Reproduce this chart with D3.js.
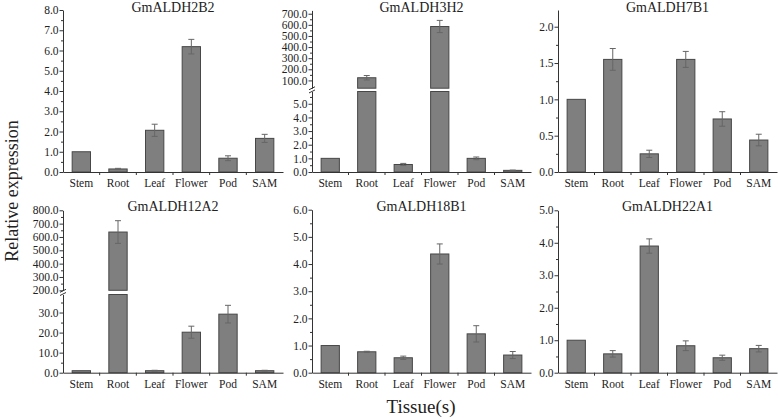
<!DOCTYPE html>
<html>
<head>
<meta charset="UTF-8">
<title>ALDH relative expression</title>
<script src="https://d3js.org/d3.v7.min.js"></script>
<style>
  body { margin: 0; background: #fff; }
  svg { display: block; }
  svg text { font-family: "Liberation Serif", Tinos, "Times New Roman", Times, "Nimbus Roman", "DejaVu Serif", serif !important; }
</style>
</head>
<body>
<script>
  const tissues = ["Stem", "Root", "Leaf", "Flower", "Pod", "SAM"];

  const mean2B2 = [1.0, 0.15, 2.06, 6.19, 0.68, 1.66];
  const err2B2  = [0, 0.03, 0.3, 0.36, 0.12, 0.2];
  const mean3H2 = [1.0, 124, 0.55, 585, 1.0, 0.12];
  const err3H2  = [0, 20, 0.08, 55, 0.1, 0.02];
  const mean7B1 = [1.0, 1.55, 0.25, 1.55, 0.73, 0.44];
  const err7B1  = [0, 0.15, 0.05, 0.11, 0.1, 0.08];
  const mean12A2 = [1.0, 637, 1.0, 20.2, 29.2, 1.0];
  const err12A2  = [0, 85, 0.2, 3.0, 4.4, 0.2];
  const mean18B1 = [1.0, 0.77, 0.55, 4.37, 1.43, 0.65];
  const err18B1  = [0, 0.02, 0.06, 0.37, 0.3, 0.13];
  const mean22A1 = [1.0, 0.58, 3.9, 0.83, 0.46, 0.74];
  const err22A1  = [0, 0.1, 0.22, 0.15, 0.08, 0.1];

  const ticks2B2 = [0, 1, 2, 3, 4, 5, 6, 7, 8];
  const ticks3H2low = [0, 1, 2, 3, 4, 5];
  const ticks3H2high = [100, 200, 300, 400, 500, 600, 700];
  const ticks7B1 = [0, 0.5, 1.0, 1.5, 2.0];
  const ticks12A2low = [0, 10, 20, 30];
  const ticks12A2high = [200, 300, 400, 500, 600, 700, 800];
  const ticks18B1 = [0, 1, 2, 3, 4, 5, 6];
  const ticks22A1 = [0, 1, 2, 3, 4, 5];

  const width = 778, height = 419;
  const top0 = 172, top1 = 372.7;

  const panels = [
    { gene: "GmALDH2B2", mean: mean2B2, err: err2B2, xr: [63, 283], base: top0, titleY: 12,
      segs: [{ domain: [0, 8], range: [top0, 10], ticks: ticks2B2 }] },
    { gene: "GmALDH3H2", mean: mean3H2, err: err3H2, xr: [312, 531], base: top0, titleY: 12,
      segs: [{ domain: [0, 5.9], range: [top0, 91.5], ticks: ticks3H2low },
             { domain: [30, 730], range: [88.2, 10.4], ticks: ticks3H2high }] },
    { gene: "GmALDH7B1", mean: mean7B1, err: err7B1, xr: [558, 777], base: top0, titleY: 12,
      segs: [{ domain: [0, 2.23], range: [top0, 10], ticks: ticks7B1 }] },
    { gene: "GmALDH12A2", mean: mean12A2, err: err12A2, xr: [63, 283], base: top1, titleY: 211,
      segs: [{ domain: [0, 39], range: [top1, 294.5], ticks: ticks12A2low },
             { domain: [200, 800], range: [290.3, 210.3], ticks: ticks12A2high }] },
    { gene: "GmALDH18B1", mean: mean18B1, err: err18B1, xr: [312, 531], base: top1, titleY: 211,
      segs: [{ domain: [0, 6], range: [top1, 209.7], ticks: ticks18B1 }] },
    { gene: "GmALDH22A1", mean: mean22A1, err: err22A1, xr: [558, 777], base: top1, titleY: 211,
      segs: [{ domain: [0, 5], range: [top1, 210.3], ticks: ticks22A1 }] }
  ];

  const axisColor = "#333";
  const barFill = "#7f7f7f";
  const barStroke = "#474747";
  const errColor = "#666";

  const svg = d3.select("body").append("svg")
    .attr("width", width)
    .attr("height", height);

  panels.forEach(p => {
    const g = svg.append("g");
    const x = d3.scaleBand().domain(tissues).range(p.xr).paddingInner(0.5).paddingOuter(0.25);
    p.segs.forEach(s => { s.y = d3.scaleLinear().domain(s.domain).range(s.range); });

    // bars, split over axis segments
    p.mean.forEach((v, i) => {
      p.segs.forEach(s => {
        if (v <= s.domain[0]) return;
        const top = Math.min(v, s.domain[1]);
        g.append("rect")
          .attr("x", x(tissues[i]))
          .attr("width", x.bandwidth())
          .attr("y", s.y(top))
          .attr("height", s.y(s.domain[0]) - s.y(top))
          .attr("fill", barFill)
          .attr("stroke", barStroke)
          .attr("stroke-width", 1);
      });
      // error bar
      const e = p.err[i];
      if (e > 0) {
        const s = p.segs.find(s => v >= s.domain[0] && v <= s.domain[1]) || p.segs[0];
        const cx = x(tissues[i]) + x.bandwidth() / 2;
        const eg = g.append("g").attr("stroke", errColor).attr("stroke-width", 1);
        eg.append("line").attr("x1", cx).attr("x2", cx).attr("y1", s.y(v - e)).attr("y2", s.y(v + e));
        [v - e, v + e].forEach(t => {
          eg.append("line").attr("x1", cx - 3).attr("x2", cx + 3).attr("y1", s.y(t)).attr("y2", s.y(t));
        });
      }
    });

    // y axis segments with minor ticks
    p.segs.forEach(s => {
      const step = s.ticks[1] - s.ticks[0];
      const minor = s.ticks.map(t => t + step / 2).filter(t => t <= s.domain[1]);
      g.append("g")
        .attr("transform", `translate(${p.xr[0]},0)`)
        .call(d3.axisLeft(s.y).tickValues(minor).tickSize(2).tickSizeOuter(0).tickFormat(""))
        .call(a => a.select(".domain").attr("stroke", axisColor))
        .call(a => a.selectAll(".tick line").attr("stroke", axisColor));
      g.append("g")
        .attr("transform", `translate(${p.xr[0]},0)`)
        .call(d3.axisLeft(s.y).tickValues(s.ticks).tickSize(3.5).tickSizeOuter(0).tickPadding(1).tickFormat(d3.format(".1f")))
        .call(a => a.select(".domain").remove())
        .call(a => a.selectAll(".tick line").attr("stroke", axisColor))
        .call(a => a.selectAll("text").attr("fill", "#222").style("font-size", "11.5px"));
    });

    // break marks
    if (p.segs.length > 1) {
      const yb = (p.segs[0].range[1] + p.segs[1].range[0]) / 2;
      [-1.6, 1.6].forEach(d => {
        g.append("line")
          .attr("x1", p.xr[0] - 3).attr("x2", p.xr[0] + 3)
          .attr("y1", yb + d + 1.5).attr("y2", yb + d - 1.5)
          .attr("stroke", axisColor);
      });
    }

    // x axis
    g.append("g")
      .attr("transform", `translate(0,${p.base})`)
      .call(d3.axisBottom(x).tickSize(0).tickPadding(7).tickSizeOuter(0))
      .call(a => a.select(".domain").attr("stroke", axisColor))
      .call(a => a.selectAll("text").attr("fill", "#222").style("font-size", "11.5px"));
    const gapX = tissues.slice(1).map(t => x(t) - x.step() * x.paddingInner() / 2);
    g.selectAll(".xsep").data(gapX).enter().append("line")
      .attr("x1", d => d).attr("x2", d => d)
      .attr("y1", p.base).attr("y2", p.base + 3)
      .attr("stroke", axisColor);

    // title
    g.append("text")
      .attr("x", (p.xr[0] + p.xr[1]) / 2)
      .attr("y", p.titleY)
      .attr("text-anchor", "middle")
      .attr("fill", "#222")
      .style("font-size", "14px")
      .text(p.gene);
  });

  svg.append("text")
    .attr("transform", "translate(18,191) rotate(-90)")
    .attr("text-anchor", "middle")
    .attr("fill", "#222")
    .style("font-size", "18px")
    .text("Relative  expression");

  svg.append("text")
    .attr("x", 421)
    .attr("y", 413)
    .attr("text-anchor", "middle")
    .attr("fill", "#222")
    .style("font-size", "19px")
    .text("Tissue(s)");
</script>
</body>
</html>
